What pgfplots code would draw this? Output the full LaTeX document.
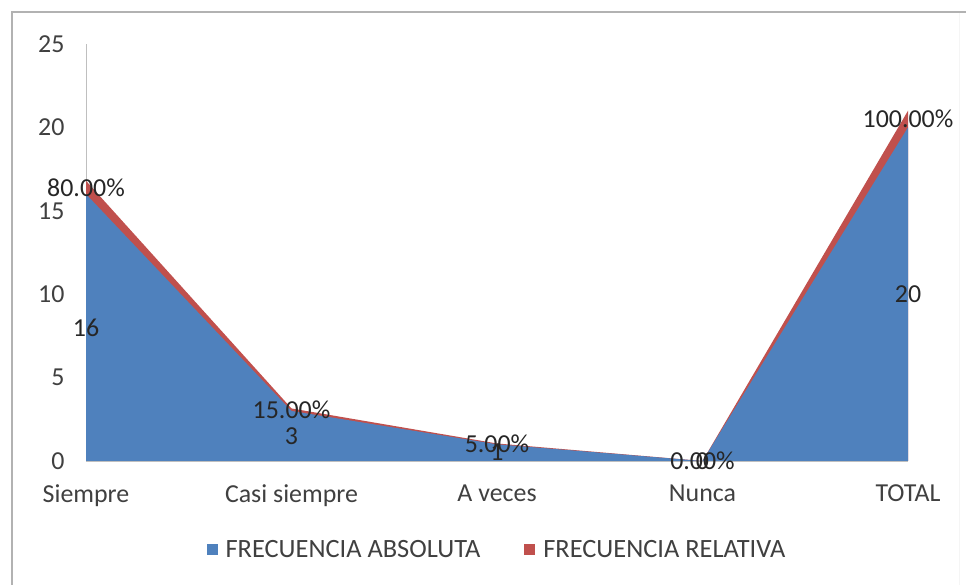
\documentclass[border=0pt]{standalone}
\usepackage{fontspec}
\setmainfont{Carlito}
\usepackage{pgfplots}
\pgfplotsset{compat=1.18}
\definecolor{blueA}{HTML}{4F81BD}
\definecolor{redA}{HTML}{C0504D}
\definecolor{txt}{HTML}{404040}
\begin{document}
\begin{tikzpicture}[x=1bp,y=1bp]
\path[use as bounding box] (0,0) rectangle (966,585);
\draw[gray!60, line width=2] (12,0) -- (12,573) -- (966,573);
\draw[gray!8, line width=1] (959,0) -- (959,572);
\begin{axis}[
  at={(86bp,124bp)}, anchor=south west,
  scale only axis, width=822bp, height=417bp,
  xmin=0, xmax=4, ymin=0, ymax=25,
  axis x line=bottom, axis y line=left,
  axis line style={draw=gray!50, -},
  xtick={0,...,4},
  xticklabels={Siempre,Casi siempre,A veces,Nunca,TOTAL},
  ytick={0,5,...,25},
  major tick length=0,
  tick label style={font=\fontsize{26}{30}\selectfont, text=txt},
  /pgf/number format/assume math mode=true,
  yticklabel style={xshift=-18bp},
  xticklabel style={yshift=-20bp},
  legend style={at={(0.5,-0.213)}, anchor=center, draw=none,
    legend columns=2, font=\fontsize{26.5}{30}\selectfont, text=txt,
    /tikz/every odd column/.append style={column sep=6bp},
    /tikz/every even column/.append style={column sep=42bp}},
  legend image code/.code={\fill[#1] (0bp,-5.5bp) rectangle (11bp,5.5bp);},
  clip=false,
]
% relative frequency stacked on top of the absolute one (top of stack)
\addplot[fill=redA, draw=none, forget plot] coordinates {
  (0,16.8) (1,3.15) (2,1.05) (3,0) (4,21)
} \closedcycle;
\addplot[fill=blueA, draw=none] coordinates {
  (0,16) (1,3) (2,1) (3,0) (4,20)
} \closedcycle;
\addlegendentry{FRECUENCIA ABSOLUTA}
\addlegendimage{fill=redA, draw=none}
\addlegendentry{FRECUENCIA RELATIVA}

% data labels
\addplot[draw=none, mark=none, forget plot, nodes near coords,
  point meta=explicit symbolic,
  nodes near coords style={anchor=center, font=\fontsize{26}{30}\selectfont, text=black!85}]
  coordinates {(0,8)[16] (1,1.5)[3] (2,0.5)[1] (3,0)[0] (4,10)[20]};
\addplot[draw=none, mark=none, forget plot, nodes near coords,
  point meta=explicit symbolic,
  nodes near coords style={anchor=center, font=\fontsize{26}{30}\selectfont, text=black!85}]
  coordinates {(0,16.4)[80.00\%] (1,3.075)[15.00\%] (2,1.025)[5.00\%] (3,0)[0.00\%] (4,20.5)[100.00\%]};
\end{axis}
\end{tikzpicture}
\end{document}
